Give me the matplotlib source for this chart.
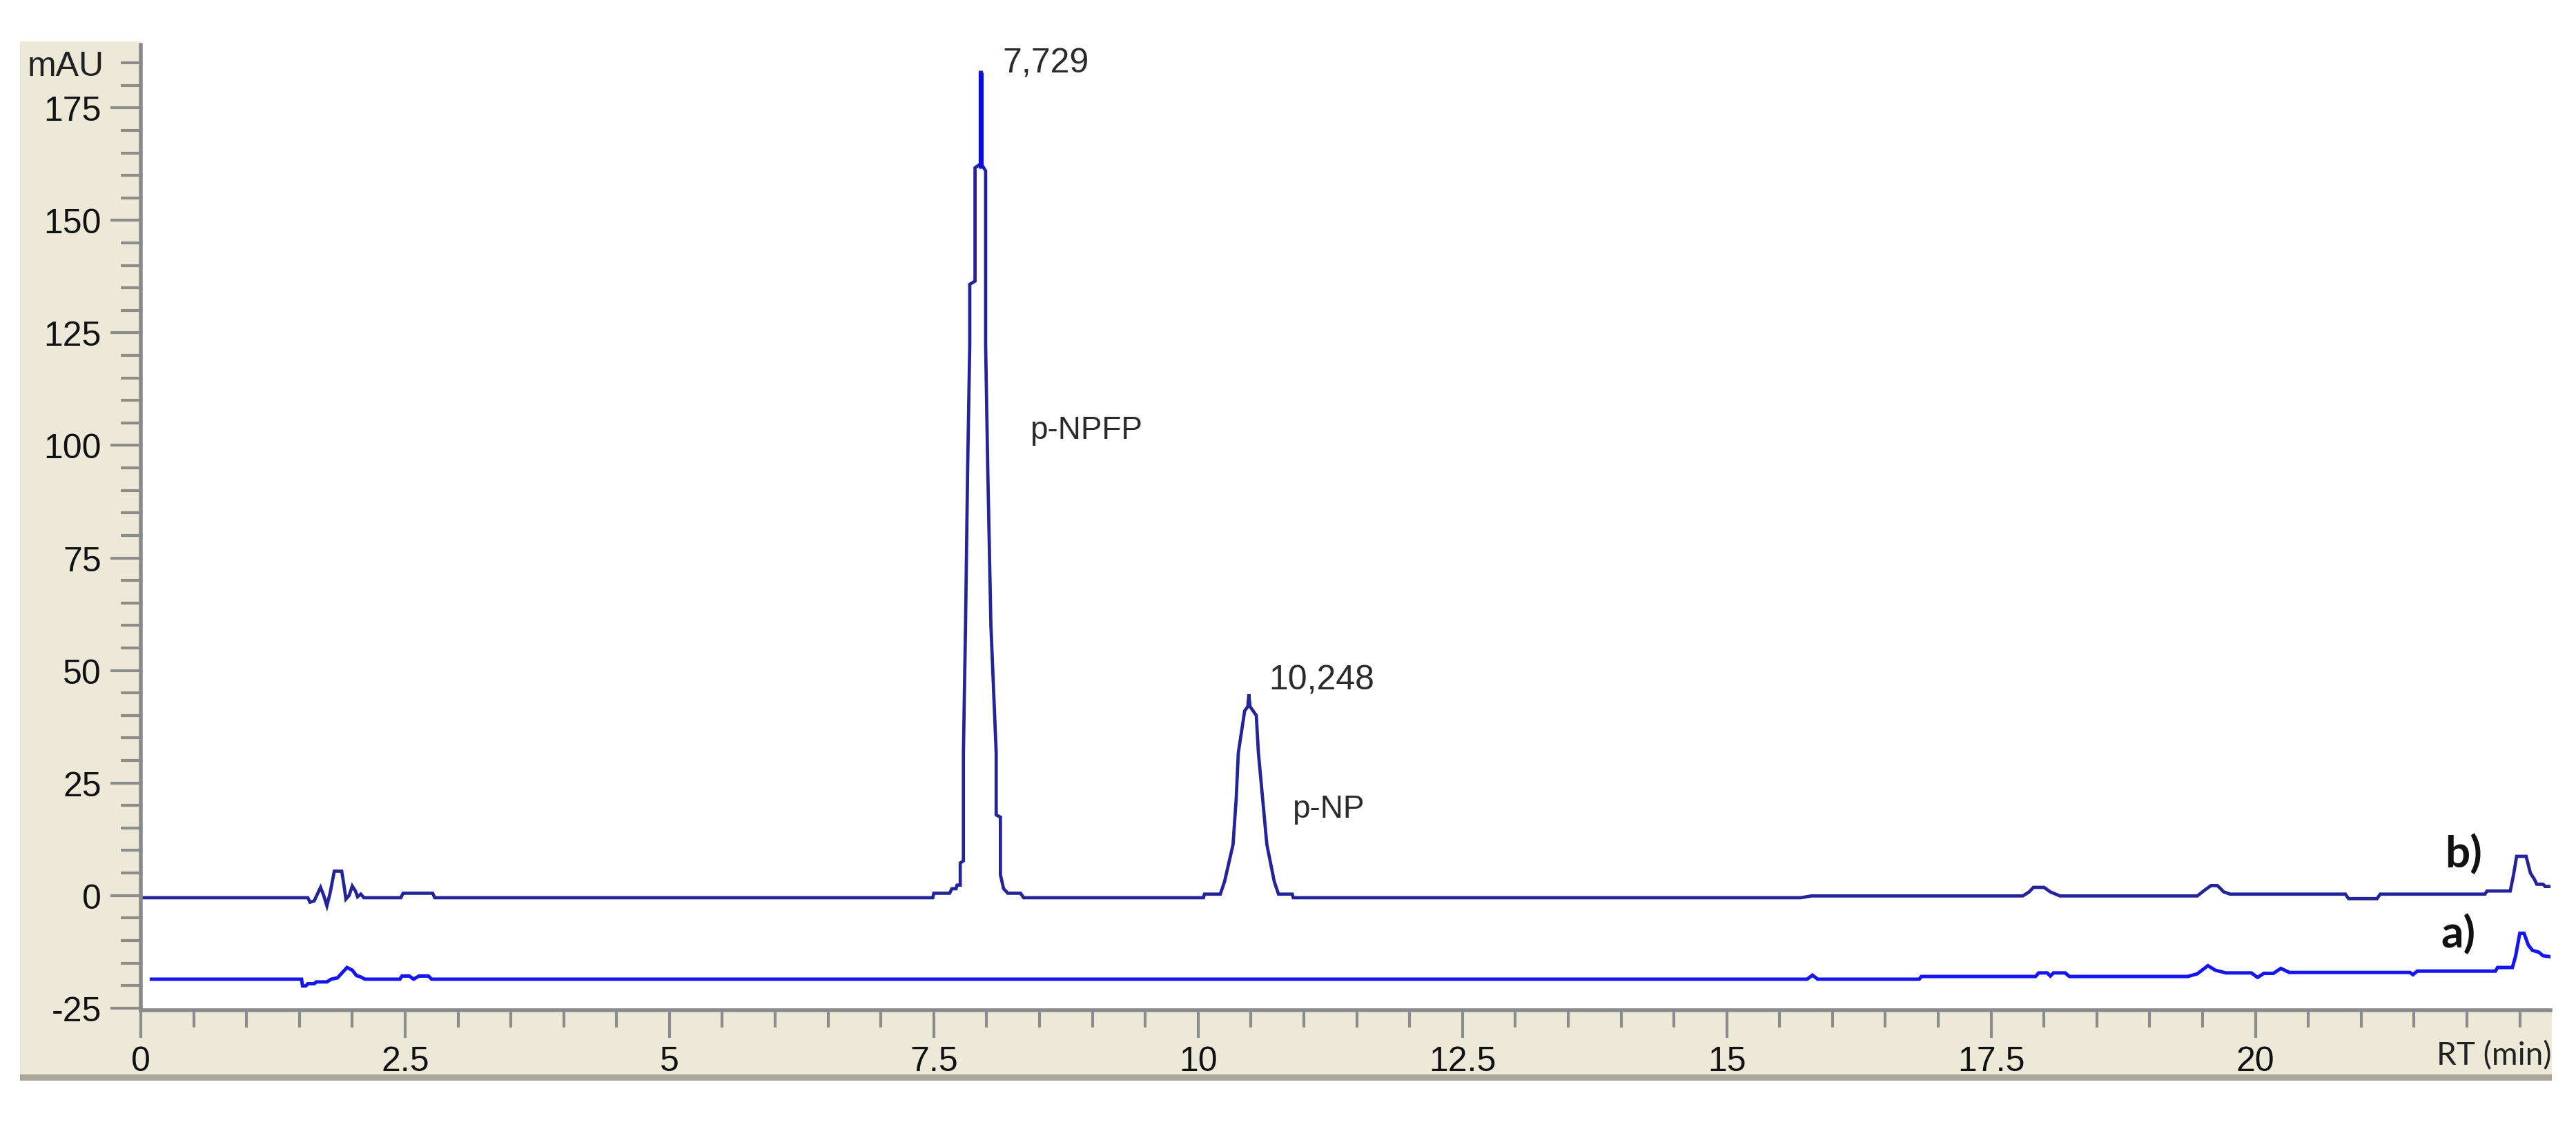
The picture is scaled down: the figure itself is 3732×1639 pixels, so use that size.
import matplotlib
matplotlib.use("Agg")
import matplotlib.pyplot as plt
from matplotlib.patches import Rectangle
from matplotlib.ticker import FixedLocator, MultipleLocator, FuncFormatter

# chromatogram b) : sample (retention time in min, absorbance in mAU)
b_time = [0.00, 1.58, 1.60, 1.64, 1.70, 1.73, 1.76, 1.79, 1.83, 1.90, 1.92, 1.94,
          1.97, 2.00, 2.03, 2.05, 2.08, 2.11, 2.46, 2.48, 2.76, 2.78,
          7.49, 7.50, 7.65, 7.67, 7.71, 7.72, 7.75, 7.75, 7.78, 7.78, 7.80, 7.82,
          7.84, 7.84, 7.89, 7.89, 7.94, 7.94, 7.95, 7.95, 7.99, 7.99, 8.01, 8.04,
          8.09, 8.09, 8.13, 8.13, 8.16, 8.20, 8.32, 8.35,
          10.05, 10.06, 10.21, 10.25, 10.33, 10.36, 10.38, 10.44, 10.47, 10.48,
          10.49, 10.55, 10.57, 10.61, 10.65, 10.72, 10.76, 10.89, 10.90,
          15.70, 15.80, 17.80, 17.86, 17.90, 18.00, 18.06, 18.15, 19.45, 19.52,
          19.58, 19.64, 19.70, 19.76, 20.85, 20.88, 21.15, 21.18, 22.17, 22.19,
          22.41, 22.44, 22.47, 22.56, 22.60, 22.64, 22.66, 22.72, 22.74, 22.79]
b_mau = [-0.5, -0.5, -1.5, -1.2, 1.8, 0.0, -2.3, 0.5, 5.4, 5.4, 2.5, -0.8,
         0.0, 2.1, 1.0, -0.3, 0.3, -0.5, -0.5, 0.5, 0.5, -0.5,
         -0.5, 0.5, 0.5, 1.5, 1.5, 2.3, 2.3, 7.2, 7.7, 31.7, 60.0, 95.0,
         122.5, 135.8, 136.5, 161.7, 162.5, 182.9, 182.9, 162.5, 161.0, 122.5, 95.0, 60.0,
         31.7, 17.9, 17.4, 4.6, 1.5, 0.5, 0.5, -0.5,
         -0.5, 0.3, 0.3, 3.1, 11.3, 21.5, 31.7, 41.0, 42.0, 44.7,
         42.0, 40.0, 31.7, 21.5, 11.3, 3.1, 0.3, 0.3, -0.5,
         -0.5, -0.1, -0.1, 0.8, 1.8, 1.8, 0.8, -0.1, -0.1, 1.2,
         2.2, 2.2, 0.8, 0.3, 0.3, -0.7, -0.7, 0.3, 0.3, 1.0,
         1.0, 4.5, 8.7, 8.7, 5.0, 3.5, 2.5, 2.5, 2.0, 2.0]

# apex of the main peak, drawn brighter by the software
apex_time = [7.945, 7.945]
apex_mau = [161.5, 182.9]

# chromatogram a) : blank
a_time = [0.10, 1.52, 1.53, 1.56, 1.58, 1.64, 1.66, 1.76, 1.80, 1.86, 1.95, 2.00,
          2.04, 2.08, 2.12, 2.45, 2.47, 2.54, 2.58, 2.63, 2.72, 2.75,
          15.76, 15.81, 15.86, 16.82, 16.84, 17.92, 17.95, 18.03, 18.06, 18.09,
          18.20, 18.24, 19.36, 19.45, 19.55, 19.62, 19.72, 19.96, 20.02, 20.08,
          20.17, 20.24, 20.32, 21.46, 21.49, 21.53, 22.27, 22.29, 22.43, 22.46,
          22.50, 22.54, 22.58, 22.62, 22.68, 22.72, 22.79]
a_mau = [-18.6, -18.6, -20.1, -20.1, -19.6, -19.6, -19.2, -19.2, -18.6, -18.3, -16.0, -16.6,
         -17.8, -18.1, -18.6, -18.6, -17.9, -17.9, -18.6, -17.9, -17.9, -18.6,
         -18.6, -17.7, -18.6, -18.6, -18.0, -18.0, -17.2, -17.2, -17.9, -17.2,
         -17.2, -18.0, -18.0, -17.4, -15.6, -16.6, -17.2, -17.2, -18.2, -17.3,
         -17.3, -16.2, -17.1, -17.1, -17.6, -16.8, -16.8, -16.0, -16.0, -13.5,
         -8.4, -8.4, -11.0, -12.2, -12.6, -13.4, -13.6]

x_major = [0, 2.5, 5, 7.5, 10, 12.5, 15, 17.5, 20]
y_major = [-25, 0, 25, 50, 75, 100, 125, 150, 175]
rt_labels = ["7,729", "10,248"]
compound_names = ["p-NPFP", "p-NP"]

plt.rcParams['axes.unicode_minus'] = False
plt.rcParams['font.family'] = ['Liberation Sans', 'DejaVu Sans']

W, H = 3732, 1640
fig = plt.figure(figsize=(W / 100, H / 100), dpi=100)
fig.patch.set_facecolor('white')


def fx(px):
    return px / W


def fy(py):
    return 1 - py / H


beige = '#ECE9D8'
# software frame: left strip and bottom strip, kept behind the axes
fig.patches.append(Rectangle((fx(29), fy(1562)), fx(204) - fx(29), fy(61) - fy(1562),
                             transform=fig.transFigure, facecolor=beige, edgecolor='none', zorder=-5))
fig.patches.append(Rectangle((fx(29), fy(1562)), fx(3697) - fx(29), fy(1465) - fy(1562),
                             transform=fig.transFigure, facecolor=beige, edgecolor='none', zorder=-5))
fig.patches.append(Rectangle((fx(29), fy(1567)), fx(3697) - fx(29), fy(1558) - fy(1567),
                             transform=fig.transFigure, facecolor='#a8a69a', edgecolor='none', zorder=-5))

ax = fig.add_axes([fx(204), fy(1465), fx(3695) - fx(204), fy(66) - fy(1465)])
ax.set_facecolor('white')

ax.plot(a_time, a_mau, color='#1515f2', lw=3.6, solid_joinstyle='miter')
ax.plot(b_time, b_mau, color='#23239a', lw=3.4, solid_joinstyle='miter')
ax.plot(apex_time, apex_mau, color='#0a0ae6', lw=5.0, solid_capstyle='butt')

ax.set_xlim(0, 22.79)
ax.set_ylim(-25.5, 189)

ax.xaxis.set_major_locator(FixedLocator(x_major))
ax.xaxis.set_minor_locator(MultipleLocator(0.5))
ax.yaxis.set_major_locator(FixedLocator(y_major))
ax.yaxis.set_minor_locator(MultipleLocator(5))
ax.xaxis.set_major_formatter(FuncFormatter(lambda v, p: f"{v:g}"))
ax.yaxis.set_major_formatter(FuncFormatter(lambda v, p: f"{v:g}"))

for s in ['top', 'right']:
    ax.spines[s].set_visible(False)
for s in ['left', 'bottom']:
    ax.spines[s].set_color('#8a8a8a')
    ax.spines[s].set_linewidth(4.0)

ax.tick_params(axis='y', which='major', length=32, width=3, color='#8c8c8c',
               pad=9, labelsize=36, labelcolor='#111111')
ax.tick_params(axis='y', which='minor', length=21, width=3, color='#8c8c8c')
ax.tick_params(axis='x', which='major', length=29, width=3, color='#8c8c8c',
               pad=8, labelsize=36, labelcolor='#111111')
ax.tick_params(axis='x', which='minor', length=18, width=3, color='#8c8c8c')

txt = '#2a2a2a'
# retention time labels next to the apex of each peak
ax.text(8.15, 185.0, rt_labels[0], fontsize=36, color=txt, va='center', ha='left')
ax.text(10.67, 47.9, rt_labels[1], fontsize=36, color=txt, va='center', ha='left')
ax.text(8.41, 103.5, compound_names[0], fontsize=33, color=txt, va='center', ha='left')
ax.text(10.89, 19.3, compound_names[1], fontsize=33, color=txt, va='center', ha='left')

ax.text(21.97, 9.4, "b)", fontsize=46, fontweight='bold', family=['Lato', 'DejaVu Sans'],
        color='#111111', va='center', ha='center')
ax.text(21.92, -8.3, "a)", fontsize=46, fontweight='bold', family=['Lato', 'DejaVu Sans'],
        color='#111111', va='center', ha='center')

fig.text(fx(40), fy(97), "mAU", fontsize=36, color='#222222', va='center', ha='left')
fig.text(fx(3697), fy(1530), "RT (min)", fontsize=33, family=['Lato', 'DejaVu Sans'],
         color='#222222', va='center', ha='right')

fig.savefig("out.png", dpi=100, facecolor='white')
